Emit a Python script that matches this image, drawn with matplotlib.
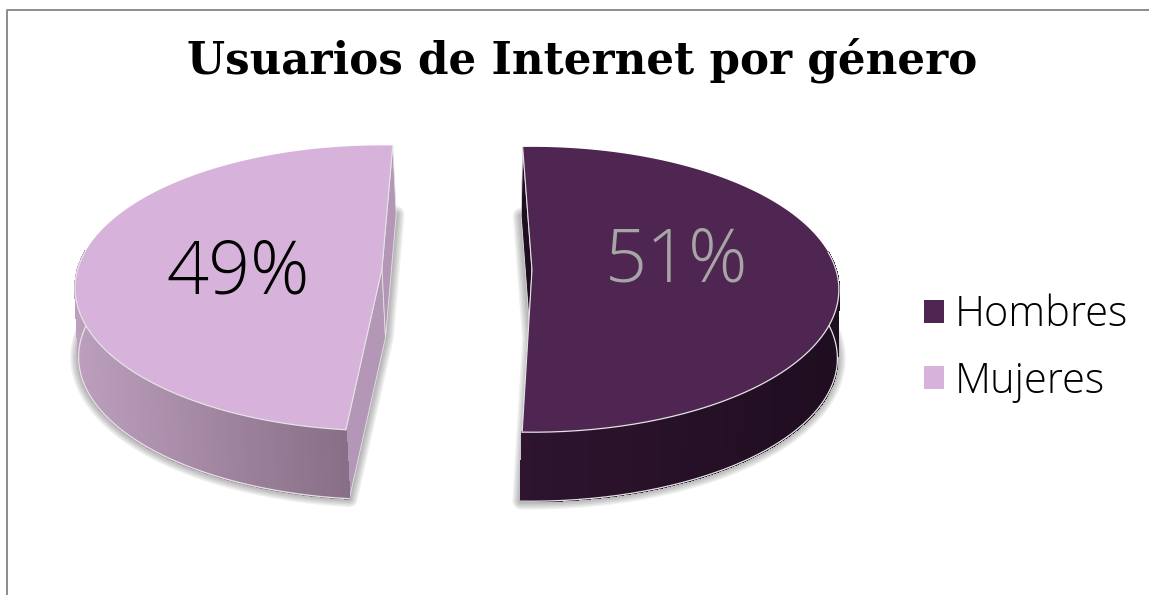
import numpy as np
import matplotlib
matplotlib.use("Agg")
import matplotlib.pyplot as plt
from matplotlib.collections import PolyCollection
from matplotlib.colors import to_rgb
from matplotlib.patches import Patch, Polygon

# data
categories = ["Hombres", "Mujeres"]
shares = [51, 49]
top_colours = ["#4f2651", "#d7b2da"]
wall_left_colours = ["#2e142f", "#bc9fbd"]
wall_right_colours = ["#1f0d20", "#80667e"]
radial_colours = ["#1f0d20", "#b496b6"]
label_colours = ["#a6a6a6", "#000000"]

# where each slice sits on the canvas, in pixels
apex_x = [532, 382]
apex_y = [270, 268.5]
start_deg = [-2.0, 185.9]
lean_x = [-1.5, 3.5]
label_x = [677, 238]
label_y = [262, 274]

RX, RY, TILT, DEPTH = 304.0, 140.0, 0.137, 69.0
LIGHT_FONT = ["Open Sans", "DejaVu Sans"]
EDGE = "#e4e4e4"


def rim(theta, cx, cy):
    """Project points of the pie's circle (clockwise from 12 o'clock)."""
    w = 1 + TILT * np.cos(theta)
    return cx + RX * np.sin(theta) / w, cy - RY * np.cos(theta) / w


def draw_slice(ax, i, share):
    cx, cy = apex_x[i], apex_y[i]
    lean = lean_x[i]
    t0 = np.radians(start_deg[i])
    t1 = t0 + np.radians(share * 3.6)
    theta = np.linspace(t0, t1, 240)
    x, y = rim(theta, cx, cy)
    xb, yb = x + lean, y + DEPTH
    apex_b = (cx + lean, cy + DEPTH)

    # soft shadow under the floor of the slice
    floor = np.column_stack([np.r_[apex_b[0], xb], np.r_[apex_b[1], yb]])
    for lw in np.arange(12, 0, -2):
        ax.add_patch(Polygon(floor, closed=True, fc="none", ec="#404040",
                             lw=lw, alpha=0.08, joinstyle="round", zorder=2))

    # the two flat cut faces
    for k in (0, -1):
        face = [(cx, cy), apex_b, (xb[k], yb[k]), (x[k], y[k])]
        ax.add_patch(Polygon(face, closed=True, fc=radial_colours[i], ec=EDGE,
                             lw=0.6, zorder=3))

    # curved wall, shaded left to right; only the front of the rim shows
    front = np.cos(theta) < TILT
    quads = []
    colours = []
    c0, c1 = np.array(to_rgb(wall_left_colours[i])), np.array(to_rgb(wall_right_colours[i]))
    span = x.max() - x.min()
    for j in np.flatnonzero(front[:-1] & front[1:]):
        quads.append([(x[j], y[j]), (x[j + 1], y[j + 1]), (xb[j + 1], yb[j + 1]), (xb[j], yb[j])])
        f = (x[j] - x.min()) / span
        colours.append(c0 + (c1 - c0) * f)
    ax.add_collection(PolyCollection(quads, facecolors=colours, edgecolors=colours,
                                     linewidths=0.8, antialiaseds=False, zorder=4))
    ax.plot(xb[front], yb[front], color=EDGE, lw=0.9, zorder=5)

    # top of the slice, light line only along the front and the cuts
    top = np.column_stack([np.r_[cx, x], np.r_[cy, y]])
    ax.add_patch(Polygon(top, closed=True, fc=top_colours[i], ec="none", zorder=6))
    ax.plot(x[front], y[front], color=EDGE, lw=0.9, zorder=6)
    ax.plot([x[0], cx, x[-1]], [y[0], cy, y[-1]], color=EDGE, lw=0.8, zorder=6)

    ax.text(label_x[i], label_y[i], f"{share}%", color=label_colours[i], fontsize=53,
            family=LIGHT_FONT, fontweight="light", ha="center", va="center", zorder=7)


fig = plt.figure(figsize=(11.49, 5.95), dpi=100, facecolor="white")
ax = fig.add_axes([0, 0, 1, 1])
ax.set_xlim(0, 1149)
ax.set_ylim(595, 0)
ax.axis("off")

# chart frame, runs off the canvas on the right and bottom
ax.plot([6.5, 6.5, 1160], [600, 9.5, 9.5], color="#8c8c8c", lw=1.4, zorder=1)

ax.text(582, 60, "Usuarios de Internet por género", fontsize=31.4, fontweight="bold",
        family="DejaVu Serif", ha="center", va="center", color="black")

for i, share in enumerate(shares):
    draw_slice(ax, i, share)

handles = [Patch(fc=c, ec="none") for c in top_colours]
ax.legend(handles, categories, loc="center left", bbox_to_anchor=(0.804, 0.415), frameon=False,
          prop={"family": LIGHT_FONT, "weight": "light", "size": 30},
          handlelength=0.48, handleheight=0.48, handletextpad=0.27, labelspacing=0.58,
          borderpad=0, borderaxespad=0)

fig.savefig("out.png", dpi=100)
